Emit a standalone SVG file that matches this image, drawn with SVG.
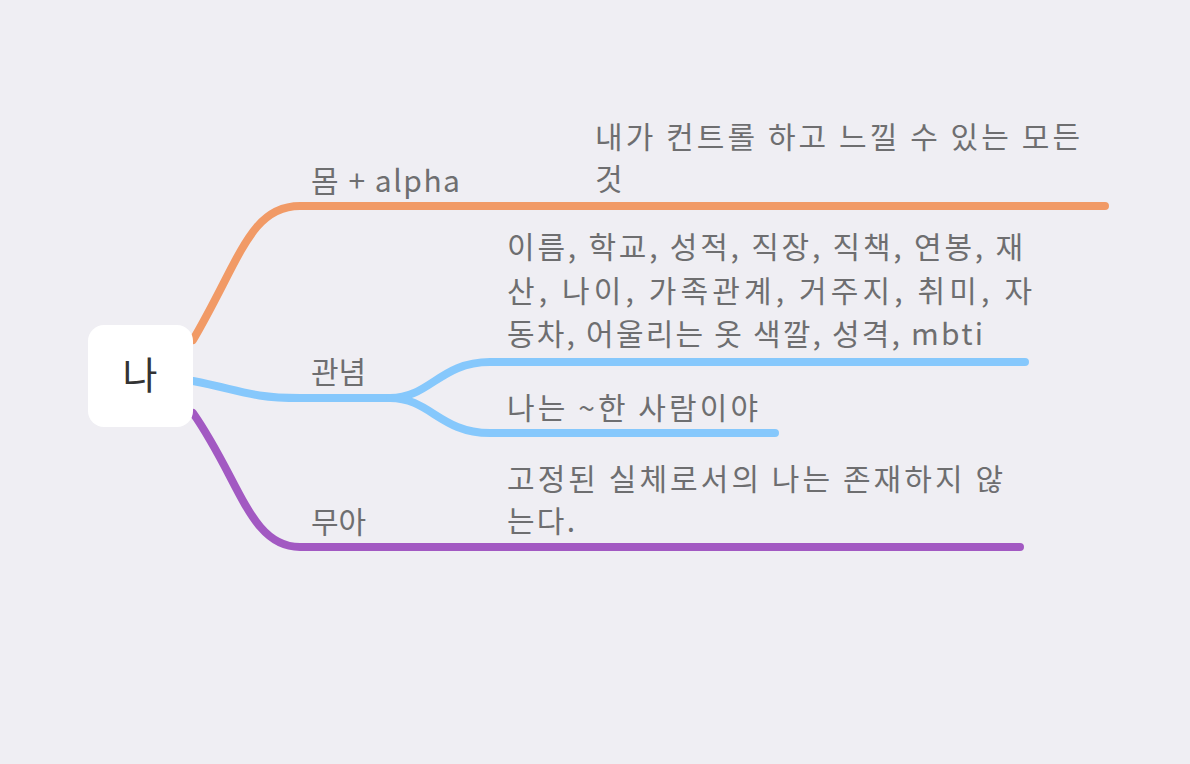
<svg xmlns="http://www.w3.org/2000/svg" width="1190" height="764" viewBox="0 0 1190 764">
<style>
.t{font-family:"Noto Sans CJK KR","Noto Sans",sans-serif;font-size:30px;fill:#6e6e70}
.c{fill:none;stroke-width:8;stroke-linecap:round}
</style>
<rect width="1190" height="764" fill="#efeef3"/>
<g id="connectors">
<path class="c" stroke="#f19a66" d="M193,340 C240,260 250,206 300,206 L1105,206"/>
<path class="c" stroke="#86c8fc" d="M193,381 C240,390 250,398 300,398 L390,398 C430,398 440,362 490,362 L1025,362"/>
<path class="c" stroke="#86c8fc" d="M390,398 C430,398 440,433 490,433 L775,433"/>
<path class="c" stroke="#a259c2" d="M193,413 C240,480 250,547 300,547 L1020,547"/>
</g>
<g id="root"><rect x="88" y="325" width="105" height="102" rx="16" fill="#fff"/><text x="140" y="389" text-anchor="middle" font-family="Noto Sans CJK KR,sans-serif" font-size="38" fill="#333">나</text></g>
<g id="n1"><text class="t" x="311" y="192" textLength="149" lengthAdjust="spacing">몸 + alpha</text></g>
<g id="n1a"><text class="t" x="595" y="148" textLength="485" lengthAdjust="spacing">내가 컨트롤 하고 느낄 수 있는 모든</text><text class="t" x="595" y="190">것</text></g>
<g id="n2"><text class="t" x="311" y="383">관념</text></g>
<g id="n2a"><text class="t" x="507" y="258" textLength="516" lengthAdjust="spacing">이름, 학교, 성적, 직장, 직책, 연봉, 재</text><text class="t" x="507" y="302" textLength="525" lengthAdjust="spacing">산, 나이, 가족관계, 거주지, 취미, 자</text><text class="t" x="507" y="345" textLength="476" lengthAdjust="spacing">동차, 어울리는 옷 색깔, 성격, mbti</text></g>
<g id="n2b"><text class="t" x="507" y="419" textLength="251" lengthAdjust="spacing">나는 ~한 사람이야</text></g>
<g id="n3"><text class="t" x="311" y="533">무아</text></g>
<g id="n3a"><text class="t" x="507" y="490" textLength="496" lengthAdjust="spacing">고정된 실체로서의 나는 존재하지 않</text><text class="t" x="507" y="532" textLength="68" lengthAdjust="spacing">는다.</text></g>
</svg>
